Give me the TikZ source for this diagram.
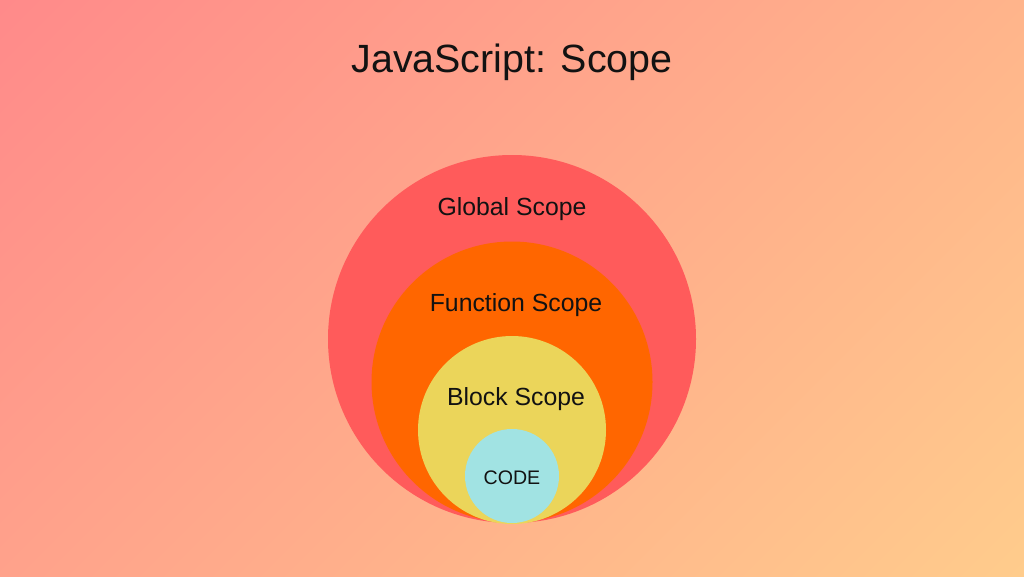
\documentclass[tikz,border=0pt]{standalone}
\usepackage{fontspec}
\setmainfont{Liberation Sans}
\definecolor{bgA}{HTML}{FF8A8A}
\definecolor{bgB}{HTML}{FFCC8C}
\definecolor{globalc}{HTML}{FF5B5B}
\definecolor{funcc}{HTML}{FF6600}
\definecolor{blockc}{HTML}{EBD55A}
\definecolor{codec}{HTML}{A1E3E3}
\definecolor{ink}{HTML}{121212}
\pgfdeclarehorizontalshading{bgshade}{100bp}{color(0bp)=(bgA); color(14.6bp)=(bgA); color(85.4bp)=(bgB); color(100bp)=(bgB)}
\tikzset{
  scopecircle/.style={circle, inner sep=0pt, outer sep=0pt, draw=none},
  label24/.style={text=ink, font=\fontsize{24.8}{29}\selectfont, anchor=base, inner sep=0pt},
}
\begin{document}
\begin{tikzpicture}[x=1pt, y=-1pt]
\useasboundingbox (0,0) rectangle (1024,576);
\shade[shading=bgshade, shading angle=-45] (0,0) rectangle (1024,576);
\node[text=ink, font=\fontsize{39.4}{48}\selectfont, anchor=base, inner sep=0pt] (title) at (512,72) {JavaScript: Scope};
\node[scopecircle, fill=globalc, minimum size=368pt] (global) at (512,339) {};
\node[scopecircle, fill=funcc, minimum size=281pt] (function) at (512,382) {};
\node[scopecircle, fill=blockc, minimum size=188pt] (block) at (512,430) {};
\node[scopecircle, fill=codec, minimum size=94pt] (code) at (512,476) {};
\node[label24] (globallabel) at (512,215) {Global Scope};
\node[label24] (functionlabel) at (516,311) {Function Scope};
\node[label24] (blocklabel) at (516,405) {Block Scope};
\node[text=ink, font=\fontsize{19.6}{24}\selectfont, anchor=base, inner sep=0pt] (codelabel) at (512,484) {CODE};
\end{tikzpicture}
\end{document}
